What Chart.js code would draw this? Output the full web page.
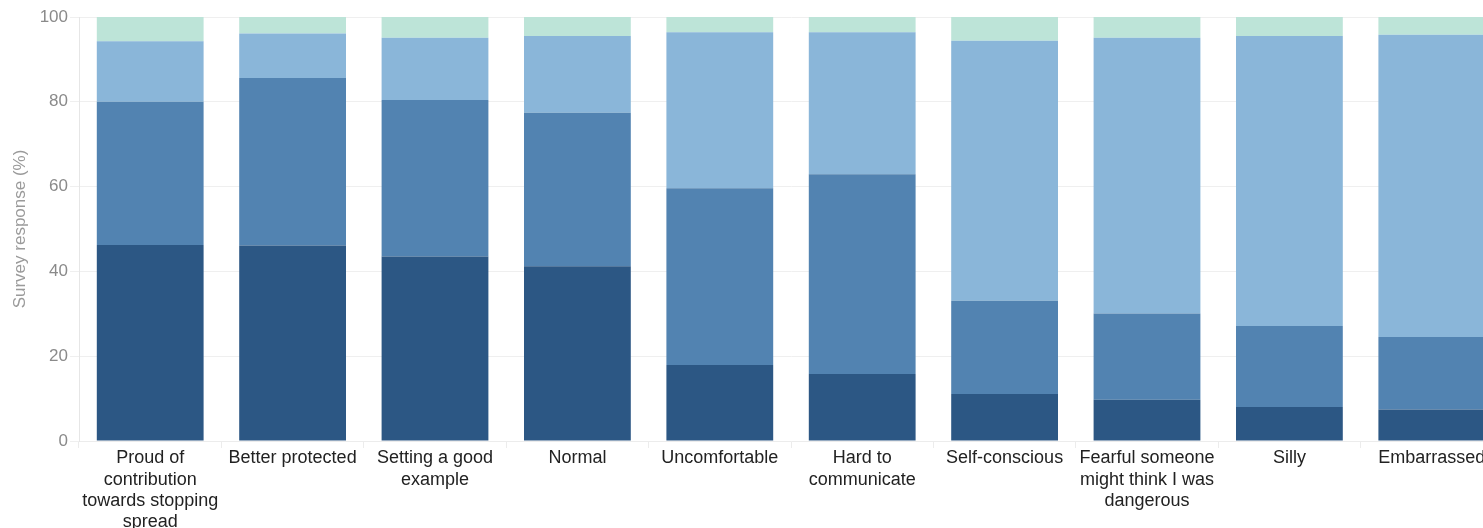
<!DOCTYPE html>
<html>
<head>
<meta charset="utf-8">
<script src="https://cdn.jsdelivr.net/npm/chart.js@4"></script>
<style>
html,body{margin:0;padding:0;background:#fff;overflow:hidden;}
#wrap{width:1483px;height:528px;overflow:hidden;}
</style>
</head>
<body>
<div id="wrap"><canvas id="c" width="1503" height="528"></canvas></div>
<script>
const categories = [
  ["Proud of","contribution","towards stopping","spread"],
  "Better protected",
  ["Setting a good","example"],
  "Normal",
  "Uncomfortable",
  ["Hard to","communicate"],
  "Self-conscious",
  ["Fearful someone","might think I was","dangerous"],
  "Silly",
  "Embarrassed"
];
const seriesNames = ["Strongly agree","Agree","Disagree","Strongly disagree"];
const stronglyAgree    = [46.2, 46.1, 43.5, 41.2, 17.9, 15.8, 11.1,  9.7,  8.0,  7.4];
const agree            = [33.8, 39.5, 36.9, 36.2, 41.7, 47.1, 22.0, 20.4, 19.1, 17.1];
const disagree         = [14.3, 10.5, 14.7, 18.1, 36.8, 33.5, 61.3, 65.0, 68.4, 71.3];
const stronglyDisagree = [ 5.7,  3.9,  4.9,  4.5,  3.6,  3.6,  5.6,  4.9,  4.5,  4.2];
const yTicks = [0, 20, 40, 60, 80, 100];
const colors = ["#2c5784", "#5283b1", "#8ab6d9", "#bde4d8"];

const seriesData = [stronglyAgree, agree, disagree, stronglyDisagree];
const datasets = seriesData.map((d, i) => ({
  label: seriesNames[i],
  data: d,
  backgroundColor: colors[i],
  borderWidth: 0,
  barPercentage: 0.75,
  categoryPercentage: 1.0
}));

const FONT = "'Liberation Sans', Arial, sans-serif";

new Chart(document.getElementById('c'), {
  type: 'bar',
  data: { labels: categories, datasets },
  options: {
    responsive: false,
    animation: false,
    layout: { padding: { top: 17, left: 0, right: 0, bottom: 0 } },
    plugins: { legend: { display: false }, tooltip: { enabled: false } },
    scales: {
      x: {
        stacked: true,
        grid: { display: true, drawOnChartArea: false, offset: true, tickLength: 7, color: '#ececec' },
        border: { display: true, color: '#ececec' },
        ticks: { color: '#222', font: { family: FONT, size: 18, lineHeight: 1.17 }, padding: 0, maxRotation: 0, autoSkip: false },
        afterFit: s => { s.height = 87; }
      },
      y: {
        stacked: true,
        min: 0, max: 100,
        afterBuildTicks: s => { s.ticks = yTicks.map(v => ({ value: v })); },
        grid: { color: '#efefef', tickLength: 9 },
        border: { display: true, color: '#e6e6e6' },
        ticks: { color: '#8a8a8a', font: { family: FONT, size: 17 }, padding: 2 },
        title: { display: true, text: 'Survey response (%)', color: '#9a9a9a', font: { family: FONT, size: 17 }, padding: { top: 10, bottom: 0 } },
        afterFit: s => { s.width = 79; }
      }
    }
  }
});
</script>
</body>
</html>
